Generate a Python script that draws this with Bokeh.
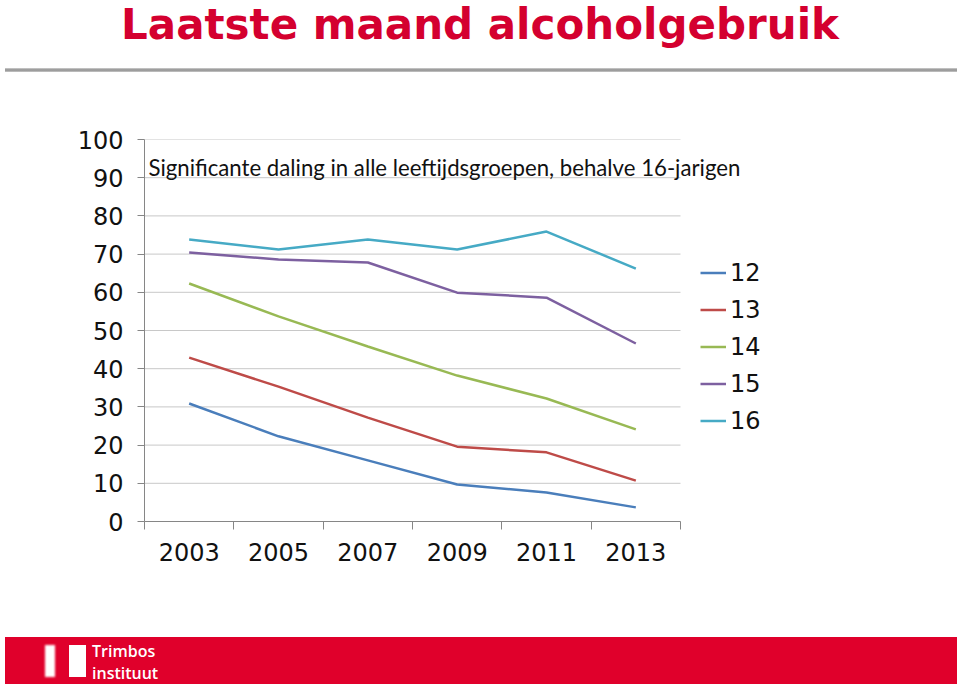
from bokeh.plotting import figure
from bokeh.models import Range1d, FixedTicker, Legend, LegendItem, Label, Div
from bokeh.layouts import column
from bokeh.embed import file_html
from bokeh.resources import INLINE

# ---- data ----
years = ["2003", "2005", "2007", "2009", "2011", "2013"]
ages = ["12", "13", "14", "15", "16"]
v12 = [30.9, 22.3, 16.0, 9.7, 7.6, 3.7]
v13 = [42.9, 35.3, 27.2, 19.6, 18.1, 10.7]
v14 = [62.3, 53.7, 45.8, 38.2, 32.2, 24.1]
v15 = [70.4, 68.6, 67.8, 59.9, 58.6, 46.6]
v16 = [73.8, 71.2, 73.8, 71.2, 75.9, 66.2]
series = [v12, v13, v14, v15, v16]
colors = ["#4A7EBB", "#BE4B48", "#98B954", "#7D60A0", "#46AAC5"]
y_ticks = list(range(0, 101, 10))
title_text = "Laatste maand alcoholgebruik"
subtitle_text = "Significante daling in alle leeftijdsgroepen, behalve 16-jarigen"
logo_lines = ["Trimbos", "instituut"]

W = 960
GREY = "#868686"

# ---- top strip: title + rule (HTML) ----
title_html = (
    '<div style="position:relative;width:960px;height:80px;">'
    '<div style="position:absolute;left:0;top:0;width:960px;text-align:center;'
    "font-family:'DejaVu Sans';font-weight:bold;font-size:42px;line-height:normal;"
    f'color:#D4002F;white-space:nowrap;">{title_text}</div>'
    '<div style="position:absolute;left:5px;top:68px;width:952px;height:4px;'
    'background:linear-gradient(#D0D0D0,#8E8E8E 50%,#C8C8C8);"></div>'
    '</div>'
)
top = Div(text=title_html, width=W, height=80, margin=0, styles={"overflow": "visible"})

# ---- chart ----
CHART_W = 536      # width of the plotting area holding the categories
FRAME_W = 656      # frame also holds legend and subtitle overflow
p = figure(frame_width=FRAME_W, frame_height=382,
           x_range=Range1d(0, len(years) * FRAME_W / CHART_W), y_range=Range1d(0, 100),
           output_backend="svg", toolbar_location=None,
           min_border_left=144, min_border_right=W - 144 - FRAME_W,
           min_border_top=59, min_border_bottom=109, margin=0)
p.outline_line_color = None
p.background_fill_color = "white"

xs = [i + 0.5 for i in range(len(years))]
p.xaxis.ticker = FixedTicker(ticks=xs, minor_ticks=list(range(len(years) + 1)))
p.xaxis.bounds = (0, len(years))
p.xaxis.major_label_overrides = {x: y for x, y in zip(xs, years)}
p.xaxis.major_tick_line_color = None
p.xaxis.major_tick_out = 0
p.xaxis.major_tick_in = 0
p.xaxis.minor_tick_out = 8
p.xaxis.minor_tick_in = 0
p.xaxis.minor_tick_line_color = GREY
p.xaxis.axis_line_color = GREY
p.xaxis.major_label_standoff = 13
p.xaxis.major_label_text_font = "DejaVu Sans"
p.xaxis.major_label_text_font_size = "24px"
p.xaxis.major_label_text_color = "#111111"

p.yaxis.ticker = FixedTicker(ticks=y_ticks)
p.yaxis.major_tick_out = 7
p.yaxis.major_tick_in = 0
p.yaxis.major_tick_line_color = GREY
p.yaxis.minor_tick_line_color = None
p.yaxis.axis_line_color = GREY
p.yaxis.major_label_standoff = 14
p.yaxis.major_label_text_font = "DejaVu Sans"
p.yaxis.major_label_text_font_size = "24px"
p.yaxis.major_label_text_color = "#111111"

# horizontal gridlines limited to the category area
p.xgrid.visible = False
p.ygrid.visible = False
p.segment(x0=[0] * len(y_ticks), x1=[len(years)] * len(y_ticks), y0=y_ticks, y1=y_ticks,
          line_color="#C8C8C8", line_width=1)

items = []
for age, vals, c in zip(ages, series, colors):
    r = p.line(xs, vals, line_color=c, line_width=2.5)
    items.append(LegendItem(label=age, renderers=[r]))

legend = Legend(items=items, location=(556, 82), orientation="vertical",
                glyph_width=26, glyph_height=37, label_height=37, spacing=0,
                padding=0, margin=0, label_standoff=4,
                border_line_color=None, background_fill_alpha=0,
                label_text_font="DejaVu Sans", label_text_font_size="24px",
                label_text_color="#111111", label_text_baseline="middle")
p.add_layout(legend)

p.add_layout(Label(x=0.045, y=92.7, text=subtitle_text, text_baseline="middle",
                   text_font="Lato", text_font_size="22.2px", text_color="#111111"))

# ---- bottom banner (HTML) ----
banner_html = (
    '<div style="position:relative;width:960px;height:56px;">'
    '<div style="position:absolute;left:5px;top:7px;width:952px;height:47px;background:#E0002B;"></div>'
    '<div style="position:absolute;left:45px;top:15px;width:10px;height:32px;background:#FFFFFF;'
    'filter:blur(1.2px);"></div>'
    '<div style="position:absolute;left:69px;top:15px;width:17px;height:32px;background:#FFFFFF;"></div>'
    "<div style=\"position:absolute;left:92px;top:10px;font-family:'Open Sans';font-weight:600;"
    'font-size:16px;line-height:22px;color:#FFFFFF;white-space:nowrap;">'
    f'{logo_lines[0]}<br>{logo_lines[1]}</div>'
    '</div>'
)
bot = Div(text=banner_html, width=W, height=56, margin=0, styles={"overflow": "visible"})

layout = column(top, p, bot, spacing=0, margin=0)
open("out.html", "w").write(file_html(layout, INLINE))
